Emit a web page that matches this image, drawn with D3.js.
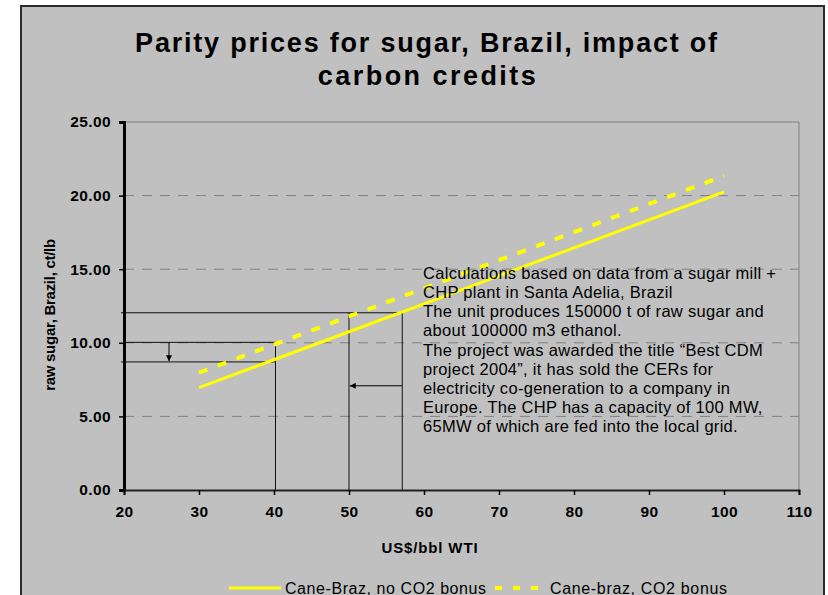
<!DOCTYPE html>
<html>
<head>
<meta charset="utf-8">
<script src="https://cdn.jsdelivr.net/npm/d3@7"></script>
<style>
  body { margin: 0; background: #fff; }
  text { font-family: "Liberation Sans", Arial, sans-serif; fill: #000; }
</style>
</head>
<body>
<div id="chart"></div>
<script>
// oil price (x) and sugar parity price (y) for both series
var oilPrices = [30, 40, 50, 60, 70, 80, 90, 100];
var sugarNoBonus = [6.95, 8.85, 10.75, 12.65, 14.55, 16.45, 18.35, 20.25];
var sugarBonus = [7.97, 9.88, 11.79, 13.70, 15.61, 17.52, 19.43, 21.34];

var xTicks = [20, 30, 40, 50, 60, 70, 80, 90, 100, 110];
var yTicks = [0, 5, 10, 15, 20, 25];

// guide lines drawn on the chart, in data units [x1, y1, x2, y2]
var guideLines = [
    [19.6, 12.04, 57.1, 12.04],
    [57.1, 12.04, 57.1, 0],
    [50.0, 12.04, 50.0, 0],
    [19.9, 10.03, 40.2, 10.03],
    [19.6, 8.70, 40.2, 8.70],
    [40.2, 10.03, 40.2, 0]
];
// arrows [x1, y1, x2, y2], head at the second point
var arrows = [
    [26.0, 10.03, 26.0, 8.75],
    [57.1, 7.08, 50.1, 7.08]
];

var titleLines = ["Parity prices for sugar, Brazil, impact of", "carbon credits"];
var noteLines = [
    "Calculations based on data from a sugar mill +",
    "CHP plant in Santa Adelia, Brazil",
    "The unit produces 150000 t of raw sugar and",
    "about 100000 m3 ethanol.",
    "The project was awarded the title \u201cBest CDM",
    "project 2004\u201d, it has sold the CERs for",
    "electricity co-generation to a company in",
    "Europe. The CHP has a capacity of 100 MW,",
    "65MW of which are fed into the local grid."
];
var seriesNames = ["Cane-Braz, no CO2 bonus", "Cane-braz, CO2 bonus"];

var width = 828, height = 595;
var svg = d3.select("#chart").append("svg")
    .attr("width", width)
    .attr("height", height);

// outer chart frame
svg.append("rect")
    .attr("x", 21).attr("y", 6)
    .attr("width", 803).attr("height", 600)
    .attr("fill", "#c0c0c0")
    .attr("stroke", "#2a2a2a")
    .attr("stroke-width", 2);

var x = d3.scaleLinear().domain([20, 110]).range([124, 799]);
var y = d3.scaleLinear().domain([0, 25]).range([490, 122]);

// adjust letter spacing so a text matches a target width
function fitWidth(sel, target) {
    sel.each(function() {
        var len = this.getComputedTextLength();
        var n = this.textContent.length;
        d3.select(this).attr("letter-spacing", ((target - len) / (n - 1)).toFixed(3));
    });
}

// title
svg.append("text")
    .attr("x", 427).attr("y", 52)
    .attr("text-anchor", "middle")
    .attr("font-size", 27).attr("font-weight", "bold")
    .text(titleLines[0])
    .call(fitWidth, 582);
svg.append("text")
    .attr("x", 428).attr("y", 85)
    .attr("text-anchor", "middle")
    .attr("font-size", 27).attr("font-weight", "bold")
    .text(titleLines[1])
    .call(fitWidth, 218);

// gridlines
svg.append("g").selectAll("line")
    .data(yTicks.filter(function(d) { return d > 0 && d < 25; }))
    .enter().append("line")
    .attr("x1", x(20)).attr("x2", x(110))
    .attr("y1", function(d) { return y(d); })
    .attr("y2", function(d) { return y(d); })
    .attr("stroke", "#808080")
    .attr("stroke-dasharray", "10,8");

// plot border top and right
svg.append("path")
    .attr("d", "M" + x(20) + "," + y(25) + "H" + x(110) + "V" + y(0))
    .attr("fill", "none")
    .attr("stroke", "#808080");

// guide lines
svg.append("g").selectAll("line")
    .data(guideLines)
    .enter().append("line")
    .attr("x1", function(d) { return x(d[0]); })
    .attr("y1", function(d) { return y(d[1]); })
    .attr("x2", function(d) { return x(d[2]); })
    .attr("y2", function(d) { return y(d[3]); })
    .attr("stroke", "#111")
    .attr("stroke-width", 1);

svg.append("defs").append("marker")
    .attr("id", "head")
    .attr("viewBox", "0 0 10 10")
    .attr("refX", 10).attr("refY", 5)
    .attr("markerWidth", 6).attr("markerHeight", 6)
    .attr("markerUnits", "userSpaceOnUse")
    .attr("orient", "auto")
    .append("path")
    .attr("d", "M0,0L10,5L0,10z")
    .attr("fill", "#000");

svg.append("g").selectAll("line")
    .data(arrows)
    .enter().append("line")
    .attr("x1", function(d) { return x(d[0]); })
    .attr("y1", function(d) { return y(d[1]); })
    .attr("x2", function(d) { return x(d[2]); })
    .attr("y2", function(d) { return y(d[3]); })
    .attr("stroke", "#000")
    .attr("marker-end", "url(#head)");

// series lines
var line = d3.line()
    .x(function(d) { return x(d[0]); })
    .y(function(d) { return y(d[1]); });

svg.append("path")
    .datum(d3.zip(oilPrices, sugarNoBonus))
    .attr("d", line)
    .attr("fill", "none")
    .attr("stroke", "#ffff00")
    .attr("stroke-width", 3);

svg.append("path")
    .datum(d3.zip(oilPrices, sugarBonus))
    .attr("d", line)
    .attr("fill", "none")
    .attr("stroke", "#ffff00")
    .attr("stroke-width", 4)
    .attr("stroke-dasharray", "9,11");

// axes
var yAxis = svg.append("g")
    .attr("transform", "translate(" + x(20) + ",0)")
    .call(d3.axisLeft(y).tickValues(yTicks).tickSize(5).tickPadding(8)
        .tickFormat(d3.format(".2f")));
yAxis.select(".domain").attr("stroke", "#000").attr("stroke-width", 3);

var xAxis = svg.append("g")
    .attr("transform", "translate(0," + y(0) + ")")
    .call(d3.axisBottom(x).tickValues(xTicks).tickSize(5).tickPadding(11));
xAxis.select(".domain").attr("stroke", "#222").attr("stroke-width", 2);

svg.selectAll(".tick text")
    .attr("font-family", "Liberation Sans, Arial, sans-serif")
    .attr("font-size", 15.5)
    .attr("font-weight", "bold")
    .attr("letter-spacing", 0.4)
    .attr("fill", "#000");
svg.selectAll(".tick line").attr("stroke", "#000").attr("stroke-width", 1.5);

// axis titles
svg.append("text")
    .attr("x", 430).attr("y", 553)
    .attr("text-anchor", "middle")
    .attr("font-size", 15).attr("font-weight", "bold")
    .text("US$/bbl WTI")
    .call(fitWidth, 96);

svg.append("text")
    .attr("transform", "translate(55,315) rotate(-90)")
    .attr("text-anchor", "middle")
    .attr("font-size", 15).attr("font-weight", "bold")
    .text("raw sugar, Brazil, ct/lb")
    .call(fitWidth, 152);

// note text
var note = svg.append("g").selectAll("text")
    .data(noteLines)
    .enter().append("text")
    .attr("x", 423)
    .attr("y", function(d, i) { return 279 + i * 19.16; })
    .attr("font-size", 16.5)
    .text(function(d) { return d; });
var base = note.filter(function(d, i) { return i === 0; }).node();
var ls = (353 - base.getComputedTextLength()) / (noteLines[0].length - 1);
note.attr("letter-spacing", ls.toFixed(3));

// legend
var legend = svg.append("g");
legend.append("line")
    .attr("x1", 229).attr("x2", 281).attr("y1", 588).attr("y2", 588)
    .attr("stroke", "#ffff00").attr("stroke-width", 3);
legend.append("text")
    .attr("x", 285).attr("y", 593.5)
    .attr("font-size", 16)
    .text(seriesNames[0])
    .call(fitWidth, 201);
legend.append("line")
    .attr("x1", 495).attr("x2", 546).attr("y1", 588).attr("y2", 588)
    .attr("stroke", "#ffff00").attr("stroke-width", 4)
    .attr("stroke-dasharray", "7,11");
legend.append("text")
    .attr("x", 550).attr("y", 593.5)
    .attr("font-size", 16)
    .text(seriesNames[1])
    .call(fitWidth, 177);
</script>
</body>
</html>
